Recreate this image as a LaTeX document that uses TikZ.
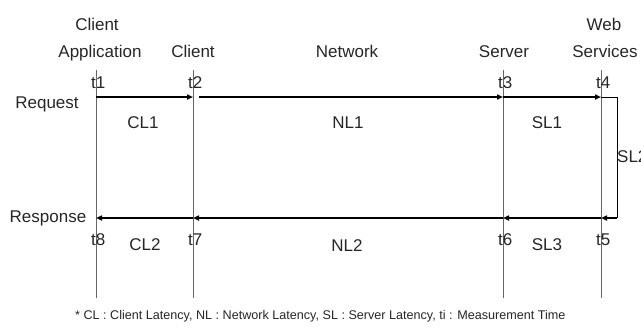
\documentclass[tikz,border=0pt]{standalone}
\usepackage{fontspec}
\setmainfont{Liberation Sans}
\usetikzlibrary{arrows.meta}
\begin{document}
\begin{tikzpicture}[x=1pt,y=-1pt,
  lbl/.style={font=\fontsize{17}{17}\selectfont, text=black!85, inner sep=0pt, anchor=base},
  tick/.style={lbl, anchor=base west},
  note/.style={font=\fontsize{12.6}{12.6}\selectfont, text=black!85, inner sep=0pt, anchor=base west},
  life/.style={draw=black!60, line width=0.8pt},
  msg/.style={line width=1.9pt, -{Triangle[length=6pt,width=5pt]}},
  bracket/.style={line width=0.8pt}]
\useasboundingbox (0,0) rectangle (641,327);

% lifelines
\foreach \n/\x in {1/96, 2/193, 3/503, 4/601} {
  \coordinate (top\n) at (\x,70);
  \coordinate (bot\n) at (\x,298);
  \draw[life] (top\n) -- (bot\n);
}

% measurement points on the request and response paths
\coordinate (r1) at (96,97);
\coordinate (r2) at (193,97);
\coordinate (r2b) at (199,97);
\coordinate (r3) at (503,97);
\coordinate (r4) at (601,97);
\coordinate (b5) at (601,218);
\coordinate (b6) at (503,218);
\coordinate (b7) at (193,218);
\coordinate (b8) at (96,218);
\coordinate (k1) at (617,97);
\coordinate (k2) at (617,218);

% request path
\draw[msg] (r1) -- (r2);
\draw[msg] (r2b) -- (r3);
\draw[msg] (r3) -- (r4);

% server side processing loop
\draw[bracket] (r4) -- (k1) -- (k2);
\draw[msg] (k2) -- (b5);

% response path
\draw[msg] (b5) -- (b6);
\draw[msg] (b6) -- (b7);
\draw[msg] (b7) -- (b8);

% column headings
\node[lbl] (hca1) at (97,30) {Client};
\node[lbl] (hca2) at (100,57) {Application};
\node[lbl] (hcl) at (193,57) {Client};
\node[lbl] (hnet) at (347,57) {Network};
\node[lbl] (hsrv) at (504,57) {Server};
\node[lbl] (hws1) at (604,30) {Web};
\node[lbl] (hws2) at (605,57) {Services};

% row headings
\node[lbl] (hreq) at (47,108) {Request};
\node[lbl] (hres) at (48,222) {Response};

% measurement times
\node[tick] (t1) at (91,88) {t1};
\node[tick] (t2) at (188,88) {t2};
\node[tick] (t3) at (498,88) {t3};
\node[tick] (t4) at (596,88) {t4};
\node[tick] (t8) at (91,245) {t8};
\node[tick] (t7) at (188,245) {t7};
\node[tick] (t6) at (498,245) {t6};
\node[tick] (t5) at (596,245) {t5};

% latencies
\node[lbl] (cl1) at (143,128) {CL1};
\node[lbl] (nl1) at (348,128) {NL1};
\node[lbl] (sl1) at (547,128) {SL1};
\node[lbl, anchor=base west] (sl2) at (617,162) {SL2};
\node[lbl] (cl2) at (145,250) {CL2};
\node[lbl] (nl2) at (347,251) {NL2};
\node[lbl] (sl3) at (547,250) {SL3};

% legend
\node[note] (legend) at (75,319) {* CL : Client Latency, NL : Network Latency, SL : Server Latency, ti : Measurement Time};
\end{tikzpicture}
\end{document}
